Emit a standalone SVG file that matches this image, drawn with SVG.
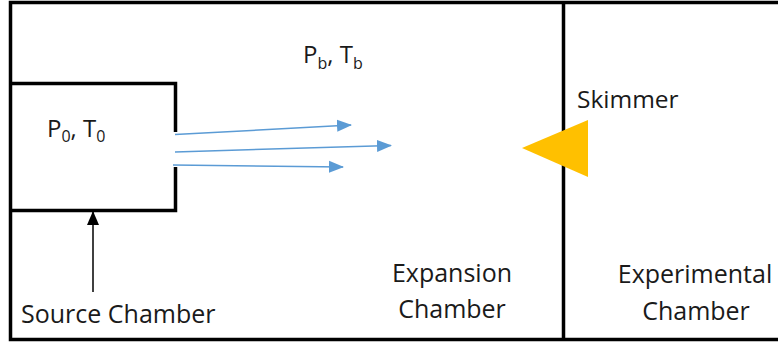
<svg xmlns="http://www.w3.org/2000/svg" width="778" height="344" viewBox="0 0 778 344">
<style>
.wall{fill:none;stroke:#000;stroke-width:3.5}
.t{font-family:"Open Sans","Liberation Sans",sans-serif;fill:#1a1a1a;font-size:25px}
.beam{stroke:#5B9BD5;stroke-width:1.5;fill:none}
</style>
<defs>
<marker id="bh" markerWidth="16" markerHeight="16" refX="14" refY="6" orient="auto" markerUnits="userSpaceOnUse" viewBox="0 0 16 12">
<path d="M0,0 L15,6 L0,12 Z" fill="#5B9BD5"/>
</marker>
<marker id="kh" markerWidth="14" markerHeight="12" refX="13" refY="6" orient="auto" markerUnits="userSpaceOnUse" viewBox="0 0 14 12">
<path d="M0,0 L14,6 L0,12 Z" fill="#000"/>
</marker>
</defs>
<rect width="778" height="344" fill="#fff"/>
<g id="outer-chamber">
<path class="wall" d="M780,2.5 L10.5,2.5 L10.5,339.5 L780,339.5"/>
<line class="wall" x1="563.5" y1="2" x2="563.5" y2="340"/>
</g>
<g id="source-chamber">
<path class="wall" d="M10.5,83.5 L175.5,83.5 L175.5,132"/>
<path class="wall" d="M175.5,167 L175.5,210.5 L10.5,210.5"/>
<text class="t" x="47" y="137" style="font-size:24px">P<tspan font-size="16" dy="5">0</tspan><tspan dy="-5">, T</tspan><tspan font-size="16" dy="5">0</tspan></text>
</g>
<g id="skimmer">
<polygon points="522,148 588,120 588,177" fill="#FFC000"/>
<text class="t" x="577" y="108" style="font-size:24.5px">Skimmer</text>
</g>
<g id="labels">
<text class="t" x="303" y="63" style="font-size:24px">P<tspan font-size="16" dy="6">b</tspan><tspan dy="-6">, T</tspan><tspan font-size="16" dy="6">b</tspan></text>
<text class="t" x="452" y="282" text-anchor="middle">Expansion</text>
<text class="t" x="452" y="318" text-anchor="middle">Chamber</text>
<text class="t" x="695" y="283" text-anchor="middle">Experimental</text>
<text class="t" x="696" y="320" text-anchor="middle">Chamber</text>
<text class="t" x="21" y="323">Source Chamber</text>
</g>
<g id="connectors">
<line class="beam" x1="175" y1="134.5" x2="351" y2="125" marker-end="url(#bh)"/>
<line class="beam" x1="175" y1="152" x2="391" y2="145.5" marker-end="url(#bh)"/>
<line class="beam" x1="173" y1="165" x2="343" y2="167" marker-end="url(#bh)"/>
<line x1="93" y1="292" x2="93" y2="212" stroke="#000" stroke-width="1.5" marker-end="url(#kh)"/>
</g>
</svg>
